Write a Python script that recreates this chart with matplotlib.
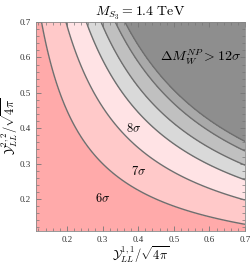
import numpy as np
import matplotlib
matplotlib.use("Agg")
import matplotlib.pyplot as plt
from matplotlib.ticker import MultipleLocator

plt.rcParams['font.family'] = ['Liberation Serif', 'DejaVu Serif']
plt.rcParams['mathtext.fontset'] = 'cm'

levels = [0.090, 0.138, 0.178, 0.207, 0.235, 0.254]
band_colors = ['#ffaaaa', '#ffc9c9', '#ffe3e5', '#d9d9d9', '#c0c0c0', '#a9a9a9', '#8e8e8e']

labels = ['$6\\sigma$', '$7\\sigma$', '$8\\sigma$', '$\\Delta M_W^{NP} > 12\\sigma$']
label_x = [0.299, 0.400, 0.386, 0.575]
label_y = [0.201, 0.278, 0.400, 0.601]
label_size = [9, 9, 9, 10]

xmin, xmax = 0.113, 0.70
ymin, ymax = 0.110, 0.70

x = np.linspace(xmin, xmax, 300)
y = np.linspace(ymin, ymax, 300)
X, Y = np.meshgrid(x, y)
Z = X * Y

fig = plt.figure(figsize=(2.5, 2.66), dpi=100)
ax = fig.add_axes([0.144, 0.132, 0.836, 0.785])

bounds = [0] + levels + [1]
ax.contourf(X, Y, Z, levels=bounds, colors=band_colors)
ax.contour(X, Y, Z, levels=levels, colors='#6e6e6e', linewidths=1.0)

for i, t in enumerate(labels):
    ax.text(label_x[i], label_y[i], t, ha='center', va='center', fontsize=label_size[i])

ax.set_xlim(xmin, xmax)
ax.set_ylim(ymin, ymax)
ax.xaxis.set_major_locator(MultipleLocator(0.1))
ax.yaxis.set_major_locator(MultipleLocator(0.1))
ax.xaxis.set_minor_locator(MultipleLocator(0.02))
ax.yaxis.set_minor_locator(MultipleLocator(0.02))
ax.tick_params(which='both', direction='in', top=True, right=True, color='#777777',
               labelsize=6.5, labelcolor='#333333')
ax.tick_params(which='major', length=3.5, width=0.6)
ax.tick_params(which='minor', length=2, width=0.5)
ax.xaxis.set_major_formatter(plt.FuncFormatter(lambda v, p: f"{v:.1f}"))
ax.yaxis.set_major_formatter(plt.FuncFormatter(lambda v, p: f"{v:.1f}"))
for s in ax.spines.values():
    s.set_color('#888888')
    s.set_linewidth(0.6)

ax.set_xlabel('$\\mathcal{Y}_{LL}^{1,1}/\\sqrt{4\\pi}$', fontsize=9)
ax.set_ylabel('$\\mathcal{Y}_{LL}^{2,2}/\\sqrt{4\\pi}$', fontsize=9)
ax.xaxis.set_label_coords(0.5, -0.065)
ax.yaxis.set_label_coords(-0.078, 0.5)
ax.set_title('$M_{S_3} = 1.4\\ \\mathrm{TeV}$', fontsize=10, pad=4)

fig.savefig('out.png', dpi=100)
